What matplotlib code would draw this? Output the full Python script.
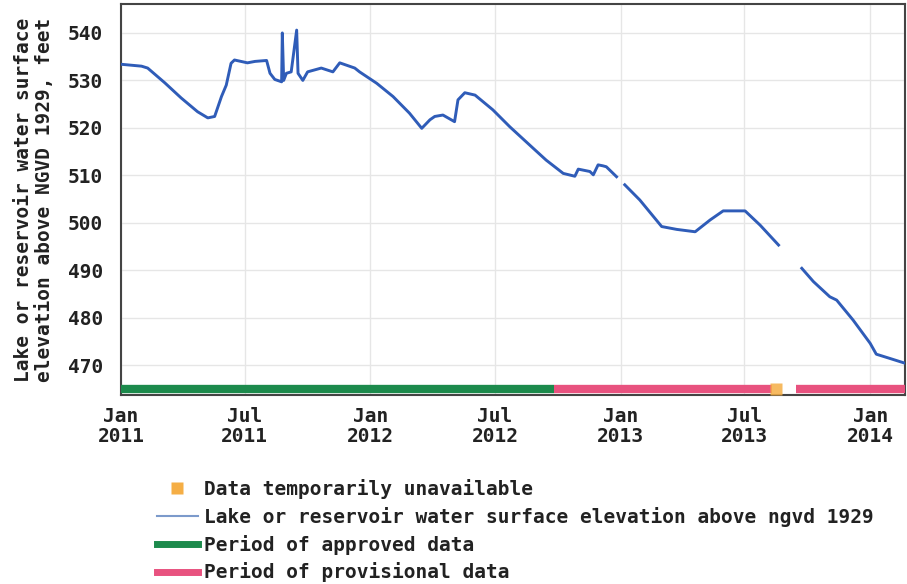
import numpy as np
import pandas as pd
import matplotlib
matplotlib.use("Agg")
import matplotlib.pyplot as plt
from matplotlib.lines import Line2D

# reservoir stage readings, feet above NGVD 1929 (NaN = break in record)
dates = [
    "2011-01-01", "2011-01-31", "2011-02-09", "2011-03-06", "2011-03-30",
    "2011-04-23", "2011-05-08", "2011-05-18", "2011-05-28", "2011-06-04",
    "2011-06-11", "2011-06-16", "2011-07-05", "2011-07-16", "2011-08-02",
    "2011-08-07", "2011-08-14", "2011-08-24", "2011-08-25", "2011-08-27",
    "2011-08-31", "2011-09-07", "2011-09-15", "2011-09-17", "2011-09-24",
    "2011-10-01", "2011-10-21", "2011-11-07", "2011-11-17", "2011-12-09",
    "2011-12-16", "2012-01-10", "2012-02-03", "2012-02-27", "2012-03-16",
    "2012-03-28", "2012-04-04", "2012-04-16", "2012-05-03", "2012-05-08",
    "2012-05-18", "2012-06-02", "2012-06-28", "2012-07-23", "2012-08-26",
    "2012-09-14", "2012-10-09", "2012-10-26", "2012-10-31", "2012-11-17",
    "2012-11-22", "2012-11-29", "2012-12-06", "2012-12-11", "2012-12-26",
    "2013-01-01",
    "2013-01-07", "2013-01-29", "2013-03-02", "2013-03-24", "2013-04-20",
    "2013-05-12", "2013-05-31", "2013-07-02", "2013-07-24", "2013-08-20",
    "2013-09-05",
    "2013-09-23", "2013-10-10", "2013-11-03", "2013-11-13", "2013-12-07",
    "2014-01-01", "2014-01-10", "2014-01-30", "2014-02-21",
]
elev = [
    533.4, 533.0, 532.6, 529.5, 526.3,
    523.4, 522.1, 522.4, 526.6, 529.0,
    533.6, 534.3, 533.7, 534.0, 534.2,
    531.5, 530.2, 529.7, 540.0, 530.0,
    531.5, 531.8, 540.6, 531.5, 530.0,
    531.8, 532.6, 531.8, 533.7, 532.6,
    531.8, 529.4, 526.6, 523.1, 519.9,
    521.7, 522.4, 522.7, 521.3, 525.9,
    527.4, 526.9, 523.8, 520.2, 515.7,
    513.2, 510.4, 509.8, 511.3, 510.8,
    510.1, 512.2, 512.0, 511.8, 509.7,
    np.nan,
    508.0, 504.8, 499.2, 498.6, 498.1,
    500.6, 502.5, 502.5, 499.5, 495.3,
    np.nan,
    490.4, 487.6, 484.4, 483.7, 479.5,
    474.6, 472.3, 471.4, 470.4,
]

# data-approval periods drawn along the bottom of the plot
approved = [("2011-01-01", "2012-09-26")]
provisional = [("2012-09-26", "2013-08-10"), ("2013-09-15", "2014-02-21")]
unavailable = ["2013-08-17"]

x_ticks = ["2011-01-01", "2011-07-01", "2012-01-01", "2012-07-01",
           "2013-01-01", "2013-07-01", "2014-01-01"]
x_ticklabels = ["Jan\n2011", "Jul\n2011", "Jan\n2012", "Jul\n2012",
                "Jan\n2013", "Jul\n2013", "Jan\n2014"]
y_ticks = [470, 480, 490, 500, 510, 520, 530, 540]

FONT = dict(family="DejaVu Sans Mono", weight="bold")
FS = 14
BLUE = "#2F5CB8"
GREEN = "#1C8A4C"
PINK = "#E8527F"
ORANGE = "#F5AE45"
TEXT = "#222222"
BAR_Y = 464.9

plt.rcParams["font.family"] = "DejaVu Sans Mono"
plt.rcParams["font.weight"] = "bold"

fig = plt.figure(figsize=(9.07, 5.84), dpi=100)
ax = fig.add_axes([121 / 907, 1 - 395 / 584, 784 / 907, 391 / 584])

ax.plot(pd.to_datetime(dates), elev, color=BLUE, lw=2.1, zorder=3)

for a, b in approved:
    ax.plot(pd.to_datetime([a, b]), [BAR_Y, BAR_Y], color=GREEN, lw=6,
            solid_capstyle="butt", zorder=4)
for a, b in provisional:
    ax.plot(pd.to_datetime([a, b]), [BAR_Y, BAR_Y], color=PINK, lw=6,
            solid_capstyle="butt", zorder=4)
ax.plot(pd.to_datetime(unavailable), [BAR_Y] * len(unavailable), "s",
        color=ORANGE, ms=8, alpha=0.85, mec="none", zorder=5)

ax.set_xlim(pd.Timestamp("2011-01-01"), pd.Timestamp("2014-02-21"))
ax.set_ylim(463.7, 546.1)
ax.set_xticks(pd.to_datetime(x_ticks))
ax.set_xticklabels(x_ticklabels, fontsize=FS, linespacing=1.05, **FONT)
ax.set_yticks(y_ticks)
ax.set_yticklabels([str(v) for v in y_ticks], fontsize=FS, **FONT)
ax.tick_params(length=0, colors=TEXT)
ax.tick_params(axis="y", pad=13)
ax.tick_params(axis="x", pad=9)
ax.grid(True, color="#E6E6E6", lw=1.0)
ax.set_axisbelow(True)
for s in ax.spines.values():
    s.set_color("#444444")
    s.set_linewidth(1.5)

ax.set_ylabel("Lake or reservoir water surface\nelevation above NGVD 1929, feet",
              fontsize=FS, linespacing=1.1, labelpad=10, color=TEXT, **FONT)

handles = [
    Line2D([], [], ls="none", marker="s", ms=8, color=ORANGE, mec="none"),
    Line2D([], [], color="#7C9ACB", lw=1.5),
    Line2D([], [], color=GREEN, lw=5),
    Line2D([], [], color=PINK, lw=5),
]
labels = [
    "Data temporarily unavailable",
    "Lake or reservoir water surface elevation above ngvd 1929",
    "Period of approved data",
    "Period of provisional data",
]
fig.legend(handles, labels, loc="upper left", bbox_to_anchor=(157 / 907, 1 - 479 / 584),
           frameon=False, handlelength=2.1, handletextpad=0.3, labelspacing=0.4,
           borderaxespad=0, borderpad=0, prop=dict(size=FS, **FONT),
           labelcolor=TEXT)

fig.savefig("out.png", dpi=100)
